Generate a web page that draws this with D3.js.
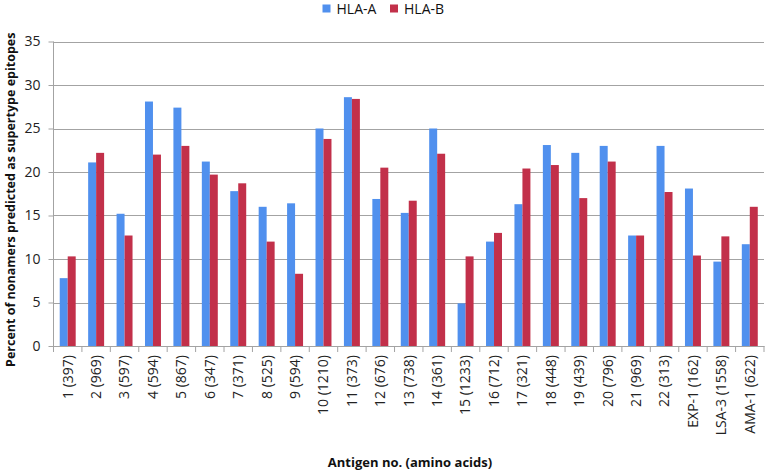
<!DOCTYPE html>
<html>
<head>
<meta charset="utf-8">
<script src="https://cdn.jsdelivr.net/npm/d3@7"></script>
<style>
  html, body { margin: 0; padding: 0; background: #fff; }
  svg { display: block; }
</style>
</head>
<body>
<svg id="chart" width="767" height="474"></svg>
<script>
const categories = ["1 (397)", "2 (969)", "3 (597)", "4 (594)", "5 (867)", "6 (347)", "7 (371)", "8 (525)", "9 (594)", "10 (1210)", "11 (373)", "12 (676)", "13 (738)", "14 (361)", "15 (1233)", "16 (712)", "17 (321)", "18 (448)", "19 (439)", "20 (796)", "21 (969)", "22 (313)", "EXP-1 (162)", "LSA-3 (1558)", "AMA-1 (622)"];
const seriesNames = ["HLA-A", "HLA-B"];
const hlaA = [7.8, 21.1, 15.2, 28.1, 27.4, 21.2, 17.8, 16.0, 16.4, 25.0, 28.6, 16.9, 15.3, 25.0, 4.9, 12.0, 16.3, 23.1, 22.2, 23.0, 12.7, 23.0, 18.1, 9.7, 11.7];
const hlaB = [10.3, 22.2, 12.7, 22.0, 23.0, 19.7, 18.7, 12.0, 8.3, 23.8, 28.4, 20.5, 16.7, 22.1, 10.3, 13.0, 20.4, 20.8, 17.0, 21.2, 12.7, 17.7, 10.4, 12.6, 16.0];
const yTicks = [0, 5, 10, 15, 20, 25, 30, 35];
const colors = ["#5090EE", "#C2304A"];

const svg = d3.select("#chart");
const font = "'Open Sans', 'Liberation Sans', sans-serif";
const mLeft = 53.5, mRight = 764, mTop = 41.5, mBottom = 346;

const x = d3.scaleBand().domain(categories).range([mLeft, mRight]).padding(0);
const x1 = d3.scaleBand().domain(seriesNames).range([0, x.bandwidth()]).paddingInner(0).paddingOuter(0.78);
const y = d3.scaleLinear().domain([0, 35]).range([mBottom, mTop]);

// gridlines
svg.append("g").selectAll("line").data(yTicks).join("line")
  .attr("x1", mLeft).attr("x2", mRight)
  .attr("y1", d => Math.round(y(d)) + 0.5).attr("y2", d => Math.round(y(d)) + 0.5)
  .attr("stroke", "#a3a3a3").attr("stroke-width", 1);

// bars
const data = categories.map((c, i) => ({ c, vals: [hlaA[i], hlaB[i]] }));
const groups = svg.append("g").selectAll("g").data(data).join("g")
  .attr("transform", d => `translate(${x(d.c)},0)`);
groups.selectAll("rect").data(d => d.vals.map((v, j) => ({ s: seriesNames[j], v, j }))).join("rect")
  .attr("x", d => x1(d.s)).attr("width", x1.bandwidth())
  .attr("y", d => y(d.v)).attr("height", d => y(0) - y(d.v))
  .attr("fill", d => colors[d.j]);

// y axis
const yAxis = svg.append("g").attr("transform", `translate(${mLeft},0)`)
  .call(d3.axisLeft(y).tickValues(yTicks).tickSize(5).tickPadding(8).tickFormat(d3.format("d")));
yAxis.select(".domain").attr("stroke", "#a3a3a3").attr("d", `M0,${mTop}V${mBottom}`);
yAxis.selectAll(".tick line").attr("stroke", "#a3a3a3");
yAxis.selectAll(".tick text").attr("font-family", font).attr("font-size", 14).attr("fill", "#222");

// x axis
const xAxis = svg.append("g").attr("transform", `translate(0,${mBottom})`)
  .call(d3.axisBottom(x).tickSize(6).tickSizeOuter(0));
xAxis.select(".domain").attr("stroke", "#a3a3a3");
xAxis.selectAll(".tick line").attr("stroke", "#a3a3a3")
  .attr("transform", `translate(${-x.bandwidth()/2},0)`);
xAxis.append("line").attr("x1", mRight).attr("x2", mRight).attr("y1", 0).attr("y2", 6).attr("stroke", "#a3a3a3");
xAxis.selectAll(".tick text")
  .attr("font-family", font).attr("font-size", 14).attr("fill", "#222")
  .attr("transform", "rotate(-90)")
  .attr("text-anchor", "end")
  .attr("x", -9).attr("y", 0).attr("dy", "0.35em");

// axis titles
svg.append("text")
  .attr("transform", `translate(15,${(mTop + mBottom) / 2 + 6}) rotate(-90)`)
  .attr("text-anchor", "middle")
  .attr("font-family", font).attr("font-size", 12.5).attr("font-weight", "bold").attr("fill", "#111")
  .text("Percent of nonamers predicted as supertype epitopes");

svg.append("text")
  .attr("x", 410).attr("y", 467)
  .attr("text-anchor", "middle")
  .attr("font-family", font).attr("font-size", 13).attr("font-weight", "bold").attr("fill", "#111")
  .text("Antigen no. (amino acids)");

// legend
const legend = svg.append("g");
const legendX = [322.5, 390];
seriesNames.forEach((s, i) => {
  legend.append("rect").attr("x", legendX[i]).attr("y", 4.5).attr("width", 8).attr("height", 8).attr("fill", colors[i]);
  legend.append("text").attr("x", legendX[i] + 14).attr("y", 14)
    .attr("font-family", font).attr("font-size", 14).attr("fill", "#111").text(s);
});
</script>
</body>
</html>
